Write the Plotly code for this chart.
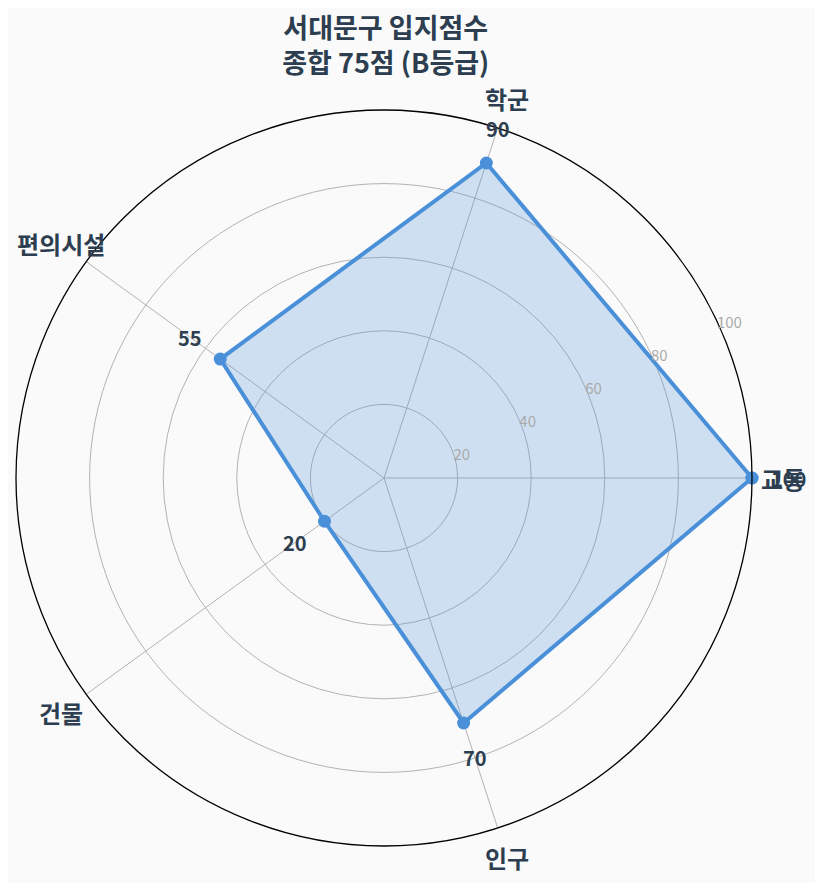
import math
import plotly.graph_objects as go

categories = ["교통", "학군", "편의시설", "건물", "인구"]
scores = [100, 90, 55, 20, 70]
label_texts = ["100", "90", "55", "20", "70"]
radial_ticks = [20, 40, 60, 80, 100]
title_lines = ["서대문구 입지점수", "종합 75점 (B등급)"]

FONT = "Noto Sans CJK KR"
DARK = "#2c3e50"
BLUE = "#4a90d9"
GRID = "#b3b3b3"
RMAX = 100


def polar_to_paper(r, idx):
    # polar fills the (square) plot area, so paper = centre + r/RMAX * half width
    ang = math.radians(idx * 360 / len(categories))
    return 0.5 + 0.5 * r / RMAX * math.cos(ang), 0.5 + 0.5 * r / RMAX * math.sin(ang)


fig = go.Figure()

fig.add_trace(go.Scatterpolar(
    r=scores + [scores[0]],
    theta=categories + [categories[0]],
    mode="lines+markers",
    fill="toself",
    fillcolor="rgba(74,144,217,0.25)",
    line=dict(color=BLUE, width=4),
    marker=dict(color=BLUE, size=13),
    hoverinfo="skip",
    showlegend=False,
))

annotations = []
# category names, centred on each spoke just outside the ring
for i, name in enumerate(categories):
    x, y = polar_to_paper(108.5, i)
    annotations.append(dict(
        x=x, y=y, xref="paper", yref="paper", text=name, showarrow=False,
        xanchor="center", yanchor="middle",
        font=dict(family=FONT, size=24, color=DARK, weight="bold"),
    ))
# score labels, 10 units outside each point
for i, (s, t) in enumerate(zip(scores, label_texts)):
    x, y = polar_to_paper(s + 10, i)
    annotations.append(dict(
        x=x, y=y, xref="paper", yref="paper", text=t, showarrow=False,
        xanchor="center", yanchor="middle",
        font=dict(family=FONT, size=20, color=DARK, weight="bold"),
    ))

fig.update_layout(
    width=823,
    height=883,
    paper_bgcolor="#fafafa",
    plot_bgcolor="#fafafa",
    margin=dict(l=8, r=79, t=102, b=45),
    annotations=annotations,
    title=dict(
        text="<br>".join(title_lines),
        x=0.459, xanchor="center", yref="container", y=0.966, yanchor="middle",
        font=dict(family=FONT, size=27, color=DARK, weight="bold"),
    ),
    polar=dict(
        bgcolor="#fafafa",
        radialaxis=dict(
            range=[0, RMAX],
            tickvals=radial_ticks,
            angle=26.5,
            tickangle=26.5,
            side="clockwise",
            showline=False,
            ticks="",
            gridcolor=GRID,
            gridwidth=1.4,
            tickfont=dict(family=FONT, size=15, color="#aaaaaa"),
        ),
        angularaxis=dict(
            rotation=0,
            direction="counterclockwise",
            linecolor="black",
            linewidth=1.3,
            gridcolor=GRID,
            gridwidth=1.4,
            ticks="",
            showticklabels=False,
        ),
    ),
)

fig.write_html("out.html")
